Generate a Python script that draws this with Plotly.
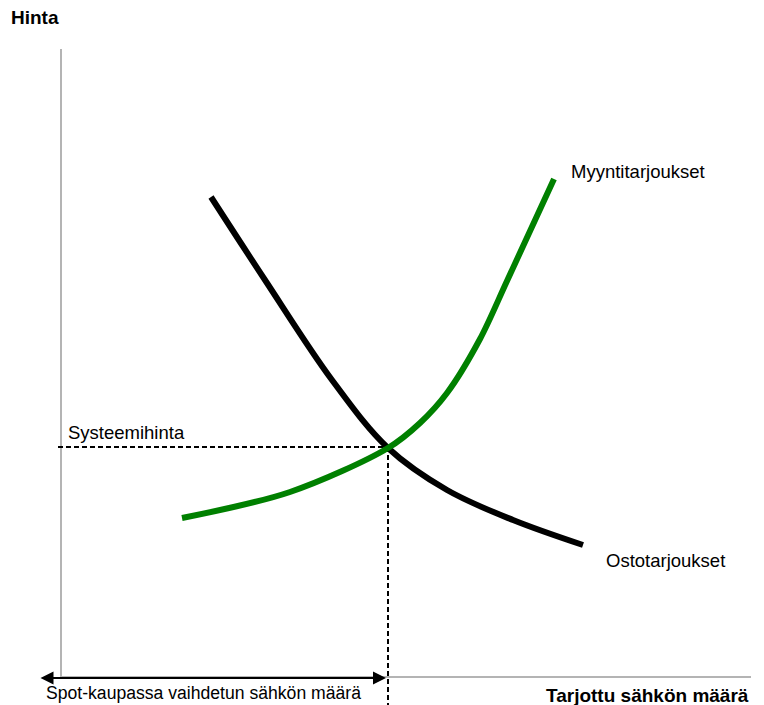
import plotly.graph_objects as go

# Quantity (x) and price (y) in chart units (origin at axes corner)
demand_q = [150, 204, 271, 327, 386, 452, 522]
demand_p = [480, 397, 297, 229, 187, 157, 132]

supply_q = [121, 229, 327, 359, 386, 419, 446, 493]
supply_p = [159, 185, 229, 254, 284, 338, 396, 498]

eq_q = 327
eq_p = 230

x_axis_end = 690
y_axis_end = 628

fig = go.Figure()

# axes lines
fig.add_trace(go.Scatter(x=[0, 0, x_axis_end], y=[y_axis_end, 0, 0], mode="lines",
                         line=dict(color="#b4b4b4", width=2), hoverinfo="skip", showlegend=False))
# dashed guide lines
fig.add_trace(go.Scatter(x=[-3, eq_q], y=[eq_p, eq_p], mode="lines",
                         line=dict(color="black", width=2, dash="5px,3px"), showlegend=False))
fig.add_trace(go.Scatter(x=[eq_q, eq_q], y=[eq_p, -30], mode="lines",
                         line=dict(color="black", width=2, dash="5px,3px"), showlegend=False))
# curves
fig.add_trace(go.Scatter(x=demand_q, y=demand_p, mode="lines", line=dict(color="black", width=6, shape="spline"),
                         showlegend=False))
fig.add_trace(go.Scatter(x=supply_q, y=supply_p, mode="lines",
                         line=dict(color="#008000", width=6, shape="spline", smoothing=0.9),
                         showlegend=False))

# double arrow
fig.add_annotation(x=eq_q - 2, y=-1, ax=-22, ay=-1, xref="x", yref="y", axref="x", ayref="y",
                   text="", showarrow=True, arrowhead=2, startarrowhead=2, arrowside="end+start",
                   arrowsize=1.3, startarrowsize=1.3, arrowwidth=2, arrowcolor="black")

font = dict(family="Liberation Sans, Arial", size=18.5, color="black")
font_small = dict(family="Liberation Sans, Arial", size=17.6, color="black")
bold = dict(family="Liberation Sans, Arial", size=19, color="black", weight="bold")

def label(x, y, text, f, xanchor="left"):
    fig.add_annotation(x=x, y=y, xref="x", yref="y", text=text, showarrow=False,
                       font=f, xanchor=xanchor, yanchor="middle")

label(-52, 660, "Hinta", bold)
label(690, -18, "Tarjottu sähkön määrä", bold, xanchor="right")
label(-17, -16, "Spot-kaupassa vaihdetun sähkön määrä", font_small)
label(5, 245, "Systeemihinta", font)
label(508, 506, "Myyntitarjoukset", font)
label(543, 117, "Ostotarjoukset", font)

fig.update_layout(
    width=756, height=697,
    margin=dict(l=0, r=0, t=0, b=0),
    plot_bgcolor="white", paper_bgcolor="white",
    xaxis=dict(range=[-53, 703], visible=False, fixedrange=True),
    yaxis=dict(range=[-28, 669], visible=False, fixedrange=True),
)

fig.write_html("out.html")
